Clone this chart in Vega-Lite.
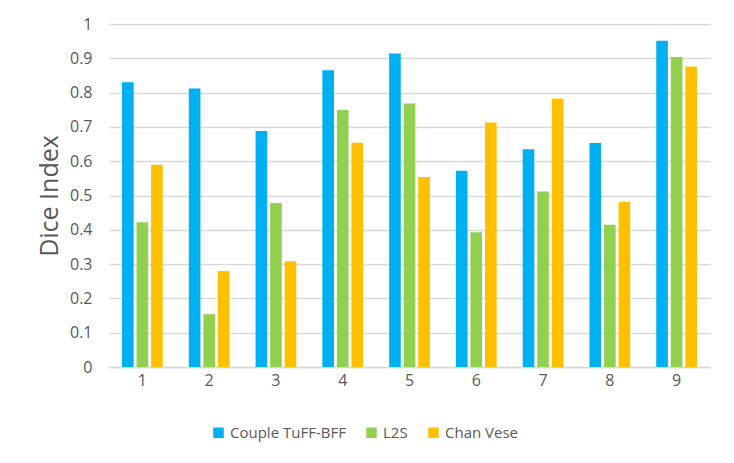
{
  "$schema": "https://vega.github.io/schema/vega-lite/v6.json",
  "description": "Dice index per image for three segmentation methods",
  "width": 601,
  "height": 343,
  "autosize": {"type": "none"},
  "padding": {"left": 109, "top": 24, "right": 24, "bottom": 96},
  "background": "white",
  "data": {
    "values": [
      {"image": "1", "method": "Couple TuFF-BFF", "dice": 0.830},
      {"image": "1", "method": "L2S", "dice": 0.422},
      {"image": "1", "method": "Chan Vese", "dice": 0.590},
      {"image": "2", "method": "Couple TuFF-BFF", "dice": 0.812},
      {"image": "2", "method": "L2S", "dice": 0.154},
      {"image": "2", "method": "Chan Vese", "dice": 0.280},
      {"image": "3", "method": "Couple TuFF-BFF", "dice": 0.688},
      {"image": "3", "method": "L2S", "dice": 0.478},
      {"image": "3", "method": "Chan Vese", "dice": 0.308},
      {"image": "4", "method": "Couple TuFF-BFF", "dice": 0.865},
      {"image": "4", "method": "L2S", "dice": 0.749},
      {"image": "4", "method": "Chan Vese", "dice": 0.654},
      {"image": "5", "method": "Couple TuFF-BFF", "dice": 0.914},
      {"image": "5", "method": "L2S", "dice": 0.768},
      {"image": "5", "method": "Chan Vese", "dice": 0.554},
      {"image": "6", "method": "Couple TuFF-BFF", "dice": 0.572},
      {"image": "6", "method": "L2S", "dice": 0.393},
      {"image": "6", "method": "Chan Vese", "dice": 0.713},
      {"image": "7", "method": "Couple TuFF-BFF", "dice": 0.635},
      {"image": "7", "method": "L2S", "dice": 0.512},
      {"image": "7", "method": "Chan Vese", "dice": 0.783},
      {"image": "8", "method": "Couple TuFF-BFF", "dice": 0.653},
      {"image": "8", "method": "L2S", "dice": 0.415},
      {"image": "8", "method": "Chan Vese", "dice": 0.481},
      {"image": "9", "method": "Couple TuFF-BFF", "dice": 0.951},
      {"image": "9", "method": "L2S", "dice": 0.904},
      {"image": "9", "method": "Chan Vese", "dice": 0.876}
    ]
  },
  "mark": {"type": "bar"},
  "encoding": {
    "x": {
      "field": "image",
      "type": "nominal",
      "title": null,
      "scale": {"paddingInner": 0.39, "paddingOuter": 0.195},
      "axis": {
        "labelAngle": 0,
        "labelFontSize": 16,
        "labelPadding": 5,
        "ticks": false,
        "domain": true,
        "domainColor": "#d9d9d9",
        "domainWidth": 1.5
      }
    },
    "xOffset": {
      "field": "method",
      "type": "nominal",
      "sort": ["Couple TuFF-BFF", "L2S", "Chan Vese"],
      "scale": {"paddingInner": 0.2, "paddingOuter": 0}
    },
    "y": {
      "field": "dice",
      "type": "quantitative",
      "title": "Dice Index",
      "scale": {"domain": [0, 1], "nice": false},
      "axis": {
        "values": [0, 0.1, 0.2, 0.3, 0.4, 0.5, 0.6, 0.7, 0.8, 0.9, 1],
        "format": "~g",
        "labelFontSize": 16,
        "labelPadding": 17,
        "ticks": false,
        "domain": false,
        "grid": true,
        "gridColor": "#d9d9d9",
        "gridWidth": 1.5,
        "titleFontSize": 25,
        "titleFontWeight": "normal",
        "titlePadding": 7
      }
    },
    "color": {
      "field": "method",
      "type": "nominal",
      "title": null,
      "scale": {
        "domain": ["Couple TuFF-BFF", "L2S", "Chan Vese"],
        "range": ["#00B0F0", "#92D050", "#FFC000"]
      },
      "legend": {
        "orient": "none",
        "direction": "horizontal",
        "legendX": 102,
        "legendY": 401,
        "symbolType": "square",
        "symbolSize": 110,
        "symbolStrokeWidth": 0,
        "labelFontSize": 15,
        "columnPadding": 18,
        "labelOffset": 4
      }
    }
  },
  "config": {
    "font": "Open Sans",
    "view": {"stroke": null},
    "axis": {"labelColor": "#595959", "titleColor": "#595959", "labelFont": "Open Sans", "titleFont": "Open Sans"},
    "legend": {"labelColor": "#595959", "labelFont": "Open Sans"}
  }
}
